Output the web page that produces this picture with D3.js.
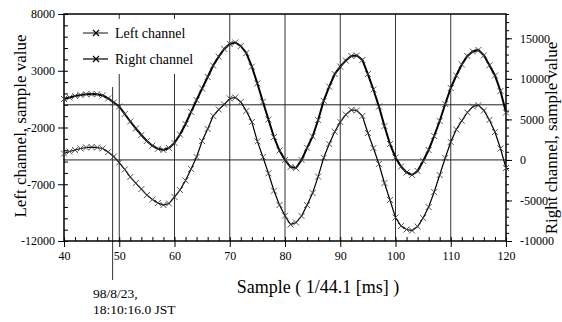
<!DOCTYPE html>
<html>
<head>
<meta charset="utf-8">
<title>Left / right channel samples</title>
<script src="https://cdn.jsdelivr.net/npm/d3@7"></script>
<style>
    body { margin: 0; background: #fff; }
    svg text { font-family: "Liberation Serif", "Times New Roman", serif; fill: #000; }
    .axis path { display: none; }
    .axis line { stroke: #000; stroke-width: 1; }
</style>
</head>
<body>
<script>
// samples 40 .. 120, one value per sample
var firstSample = 40;
var leftChannel = [
    510, 640, 780, 860, 930, 950, 930, 820, 560, 200,
    -150, -810, -1470, -2090, -2660, -3190, -3600, -3880, -3980, -3810,
    -3360, -2620, -1690, -630, 420, 1440, 2450, 3460, 4240, 4920,
    5360, 5490, 5180, 4560, 3360, 1880, 270, -1300, -2840, -4030,
    -4860, -5480, -5570, -4860, -3790, -2790, -1340, 350, 1600, 2710,
    3370, 3900, 4300, 4340, 3950, 2710, 1350, -150, -1870, -3450,
    -4640, -5440, -5960, -6180, -5830, -4950, -3980, -2750, -1430, 70,
    1480, 2580, 3550, 4300, 4700, 4830, 4360, 3480, 2580, 1220,
    -680
];
var rightChannel = [
    790, 1040, 1220, 1410, 1530, 1590, 1530, 1410, 980, 420,
    -320, -1180, -2110, -2850, -3590, -4330, -4880, -5310, -5560, -5380,
    -4570, -3710, -2540, -1120, 360, 2330, 3820, 5420, 6220, 6840,
    7580, 7700, 7150, 6040, 4680, 2290, 360, -1650, -3800, -5560,
    -6880, -7970, -7720, -6920, -5560, -4080, -2060, 260, 1960, 3480,
    4680, 5590, 6160, 6100, 5420, 3320, 1470, -500, -2850, -4940,
    -7100, -8150, -8580, -8710, -8210, -7160, -5810, -3960, -1860, 240,
    2210, 3750, 4830, 5850, 6590, 6750, 6100, 4930, 3440, 1410,
    -1000
];
var xTicks = [40, 50, 60, 70, 80, 90, 100, 110, 120];
var leftTicks = [8000, 3000, -2000, -7000, -12000];
var rightTicks = [15000, 10000, 5000, 0, -5000, -10000];
var seriesNames = ["Left channel", "Right channel"];
var markSample = 48.8;
var stampLines = ["98/8/23,", "18:10:16.0 JST"];

var w = 562, h = 322;
var x0 = 64, x1 = 506, yTop = 14, yBot = 241;
var serif = '"Liberation Serif", "Times New Roman", serif';
var plain = function(d) { return String(d); }; // hyphen minus, no commas

var svg = d3.select("body").append("svg")
    .attr("width", w)
    .attr("height", h);

var xScale = d3.scaleLinear().domain([40, 120]).range([x0, x1]);
var yLeft = d3.scaleLinear().domain([-12000, 8000]).range([yBot, yTop]);
var yRight = d3.scaleLinear().domain([-10000, 18000]).range([yBot, yTop]);

// vertical grid
svg.append("g")
    .selectAll("line")
    .data(xTicks.slice(1, -1))
    .enter()
    .append("line")
    .attr("x1", function(d) { return xScale(d); })
    .attr("x2", function(d) { return xScale(d); })
    .attr("y1", yTop)
    .attr("y2", yBot)
    .attr("stroke", "#333")
    .attr("stroke-width", 1);

// zero lines of the two channels
svg.append("line")
    .attr("x1", x0).attr("x2", x1)
    .attr("y1", yLeft(0)).attr("y2", yLeft(0))
    .attr("stroke", "#222").attr("stroke-width", 1);
svg.append("line")
    .attr("x1", x0).attr("x2", x1)
    .attr("y1", yRight(0)).attr("y2", yRight(0))
    .attr("stroke", "#222").attr("stroke-width", 1);

// time stamp marker
svg.append("line")
    .attr("x1", xScale(markSample)).attr("x2", xScale(markSample))
    .attr("y1", 87).attr("y2", 280)
    .attr("stroke", "#333").attr("stroke-width", 1);

svg.append("text")
    .attr("font-size", "13.5px")
    .selectAll("tspan")
    .data(stampLines)
    .enter()
    .append("tspan")
    .attr("x", 93)
    .attr("y", function(d, i) { return 298 + i * 16; })
    .text(function(d) { return d; });

// legend box hides the grid behind it
svg.append("rect")
    .attr("x", 68).attr("y", 19)
    .attr("width", 152).attr("height", 55)
    .attr("fill", "#fff");

// frame
svg.append("rect")
    .attr("x", x0).attr("y", yTop)
    .attr("width", x1 - x0).attr("height", yBot - yTop)
    .attr("fill", "none")
    .attr("stroke", "#000")
    .attr("stroke-width", 1.5);

// axes: major ticks outside, minor ticks
function axisGroup(tx, ty) {
    return svg.append("g").attr("class", "axis")
        .attr("transform", "translate(" + tx + "," + ty + ")");
}
function serifText(g) {
    g.selectAll("text")
        .style("font-family", serif)
        .style("font-size", "12px");
}

axisGroup(x0, 0)
    .call(d3.axisLeft(yLeft).tickValues(d3.range(-12000, 8001, 1000)).tickSize(-4).tickFormat(""));
axisGroup(x0, 0)
    .call(d3.axisLeft(yLeft).tickValues(leftTicks).tickSize(6).tickPadding(3).tickFormat(plain))
    .call(serifText);

axisGroup(0, yBot)
    .call(d3.axisBottom(xScale).tickValues(d3.range(40, 121, 2)).tickSize(-4).tickFormat(""));
axisGroup(0, yBot)
    .call(d3.axisBottom(xScale).tickValues(xTicks).tickSize(6).tickPadding(4).tickFormat(plain))
    .call(serifText);

axisGroup(x1, 0)
    .call(d3.axisRight(yRight).tickValues(d3.range(-10000, 18001, 1000)).tickSize(3).tickFormat(""));
axisGroup(x1, 0)
    .call(d3.axisRight(yRight).tickValues(rightTicks).tickSize(6).tickPadding(8).tickFormat(plain))
    .call(serifText);

// axis titles
svg.append("text")
    .attr("transform", "translate(26,126) rotate(-90)")
    .attr("text-anchor", "middle")
    .attr("font-size", "17px")
    .text("Left channel, sample value");
svg.append("text")
    .attr("transform", "translate(557,138) rotate(-90)")
    .attr("text-anchor", "middle")
    .attr("font-size", "17px")
    .text("Right channel, sample value");
svg.append("text")
    .attr("x", 318).attr("y", 293)
    .attr("text-anchor", "middle")
    .attr("font-size", "18px")
    .text("Sample ( 1/44.1 [ms] )");

// curves
var cross = "M-3,-3L3,3M-3,3L3,-3";

function drawSeries(values, scale, width) {
    var pts = values.map(function(v, i) { return [firstSample + i, v]; });
    var line = d3.line()
        .x(function(d) { return xScale(d[0]); })
        .y(function(d) { return scale(d[1]); });
    svg.append("path")
        .attr("d", line(pts))
        .attr("fill", "none")
        .attr("stroke", "#000")
        .attr("stroke-width", width);
    svg.append("g")
        .selectAll("path")
        .data(pts)
        .enter()
        .append("path")
        .attr("d", cross)
        .attr("transform", function(d) { return "translate(" + xScale(d[0]) + "," + scale(d[1]) + ")"; })
        .attr("fill", "none")
        .attr("stroke", "#444")
        .attr("stroke-width", 0.9);
}

drawSeries(leftChannel, yLeft, 2);
drawSeries(rightChannel, yRight, 1.2);

// legend
var legend = svg.append("g");
seriesNames.forEach(function(name, i) {
    var y = 33 + i * 26;
    legend.append("line")
        .attr("x1", 83).attr("x2", 108)
        .attr("y1", y).attr("y2", y)
        .attr("stroke", i == 0 ? "#888" : "#000")
        .attr("stroke-width", i == 0 ? 2 : 1.2);
    legend.append("path")
        .attr("d", cross)
        .attr("transform", "translate(96," + y + ")")
        .attr("fill", "none")
        .attr("stroke", "#000")
        .attr("stroke-width", 1.2);
    legend.append("text")
        .attr("x", 115).attr("y", y + 5)
        .attr("font-size", "14px")
        .text(name);
});
</script>
</body>
</html>
